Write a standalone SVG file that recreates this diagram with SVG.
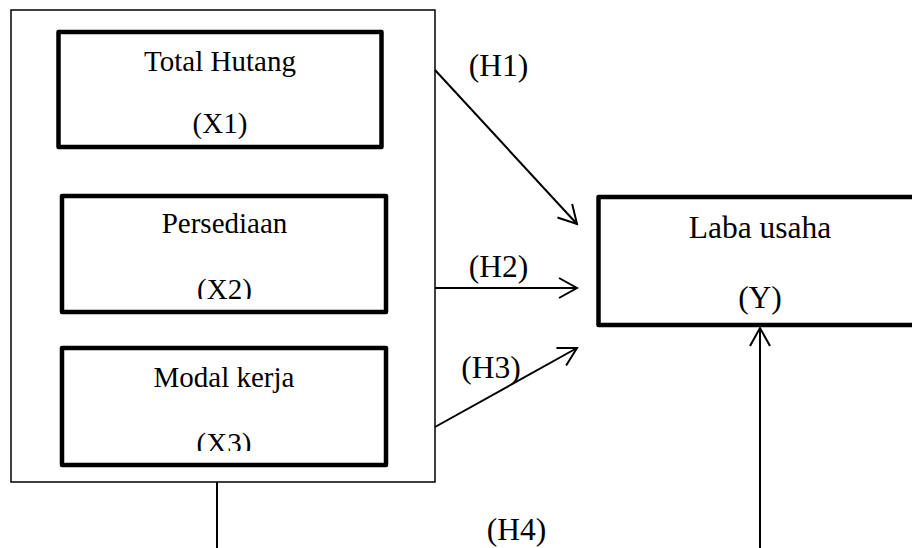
<svg xmlns="http://www.w3.org/2000/svg" width="912" height="548" viewBox="0 0 912 548">
<style>
.frame{fill:none;stroke:#000;stroke-width:1.5}
.box{fill:#fff;stroke:#000;stroke-width:4.5;stroke-linejoin:round}
.t{font-family:"Liberation Serif","Times New Roman",serif;font-size:29px;fill:#000;text-anchor:middle}
.ty{font-size:31.5px}
.conn{fill:none;stroke:#000;stroke-width:2}
</style>
<defs>
<marker id="arr" markerUnits="userSpaceOnUse" markerWidth="30" markerHeight="30" viewBox="-25 -15 30 30" refX="0" refY="0" orient="auto" overflow="visible">
<path d="M-18,-10 L0,0 L-18,10" fill="none" stroke="#000" stroke-width="2"/>
</marker>
<clipPath id="c2"><rect x="60" y="196" width="328" height="103"/></clipPath>
<clipPath id="c3"><rect x="60" y="348" width="328" height="103"/></clipPath>
</defs>
<g id="group-x">
<rect class="frame" x="11" y="10" width="424" height="472"/>
</g>
<g id="node-x1">
<rect class="box" x="58.5" y="32" width="323" height="115"/>
<text class="t" x="220" y="71">Total Hutang</text>
<text class="t" x="220" y="133">(X1)</text>
</g>
<g id="node-x2">
<rect class="box" x="62" y="196" width="324" height="116"/>
<text class="t" x="224.5" y="233">Persediaan</text>
<text class="t" x="224.5" y="299" clip-path="url(#c2)">(X2)</text>
</g>
<g id="node-x3">
<rect class="box" x="62" y="348" width="324" height="117"/>
<text class="t" x="224" y="387">Modal kerja</text>
<text class="t" x="224" y="453" clip-path="url(#c3)">(X3)</text>
</g>
<g id="node-y">
<rect class="box" x="598.5" y="197" width="323" height="128"/>
<text class="t ty" x="760" y="238">Laba usaha</text>
<text class="t ty" x="760" y="308">(Y)</text>
</g>
<g id="connectors">
<line class="conn" x1="435" y1="70" x2="577" y2="224" marker-end="url(#arr)"/>
<line class="conn" x1="435" y1="288" x2="577" y2="288" marker-end="url(#arr)"/>
<line class="conn" x1="435" y1="427" x2="577" y2="348" marker-end="url(#arr)"/>
<line class="conn" x1="217" y1="482" x2="217" y2="548"/>
<line class="conn" x1="760" y1="548" x2="760" y2="328" marker-end="url(#arr)"/>
<text class="t ty" x="498.5" y="76">(H1)</text>
<text class="t ty" x="498.5" y="277">(H2)</text>
<text class="t ty" x="491" y="378">(H3)</text>
<text class="t ty" x="516.5" y="540">(H4)</text>
</g>
</svg>
